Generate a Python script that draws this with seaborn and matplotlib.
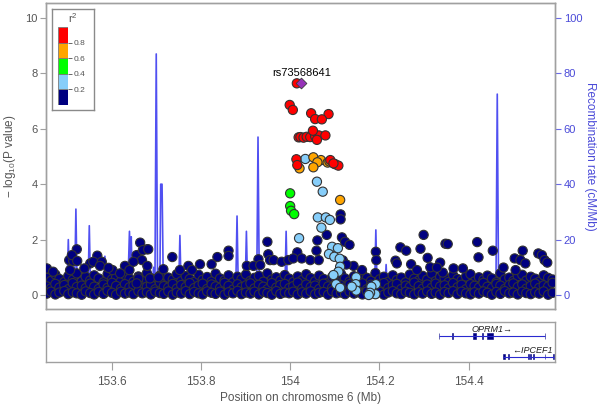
import matplotlib
matplotlib.use("Agg")
import matplotlib.pyplot as plt
import numpy as np
import pandas as pd
import seaborn as sns

# --- data --------------------------------------------------------------
index_snp = "rs73568641"
index_pos = 154.025
index_logp = 7.64

red_pos = [154.015, 153.999, 154.006, 154.047, 154.086, 154.056, 154.071,
           154.019, 154.023, 154.030, 154.037, 154.045, 154.056, 154.064, 154.079,
           154.051, 154.060, 154.014, 154.016, 154.090, 154.101, 154.108, 154.097]
red_logp = [7.64, 6.86, 6.68, 6.56, 6.53, 6.35, 6.34,
            5.69, 5.70, 5.68, 5.71, 5.70, 5.73, 5.76, 5.76,
            5.93, 5.60, 4.90, 4.69, 4.87, 4.72, 4.67, 4.75]

orange_pos = [154.052, 154.069, 154.061, 154.084, 154.052, 154.021, 154.112, 154.088]
orange_logp = [4.97, 4.87, 4.79, 4.78, 4.61, 4.57, 3.43, 4.82]

green_pos = [154.000, 154.000, 154.002, 154.009]
green_logp = [3.67, 3.21, 3.04, 2.92]

lblue_pos = [154.034, 154.060, 154.073, 154.062, 154.080, 154.089, 154.070, 154.020,
             154.094, 154.107, 154.087, 154.099, 154.111, 154.112, 154.108, 154.097,
             154.103, 154.112, 154.148, 154.147, 154.148, 154.138, 154.192, 154.191,
             154.182, 154.179, 154.176]
lblue_logp = [4.91, 4.09, 3.73, 2.80, 2.80, 2.71, 2.43, 2.05,
              1.74, 1.69, 1.48, 1.38, 1.31, 1.02, 0.84, 0.72,
              0.39, 0.26, 0.64, 0.39, 0.16, 0.30, 0.39, 0.03,
              0.30, 0.08, 0.00]

# navy points standing above the dense band
navy_pos = [154.113, 154.113, 154.082, 154.061, 154.059, 153.949, 154.016, 154.116, 154.123, 154.133,
            153.664, 153.522, 153.679, 153.656, 153.668, 153.680, 153.568, 153.736, 153.862, 153.862,
            153.837, 153.824, 153.798, 154.299, 154.247, 154.260, 154.292, 154.308, 154.348, 154.353,
            154.419, 154.422, 154.454, 154.521, 154.556, 154.564, 154.570, 154.576, 154.192, 154.193,
            153.929, 153.951, 153.955, 153.505, 153.514, 153.552, 153.559, 153.578, 153.630, 154.336,
            154.342, 154.366, 154.387, 154.503, 154.516, 154.527, 154.505, 154.478, 154.236, 154.239,
            154.271, 154.284, 154.314, 154.329, 154.142, 154.161, 153.903, 153.918, 153.933, 153.963,
            153.981, 153.996, 154.007, 154.026, 154.045, 154.064, 153.753, 153.772, 153.780, 153.455,
            153.469, 153.539, 153.602, 153.619, 153.640, 153.660, 153.686, 153.705, 153.716, 153.656,
            153.670, 153.682, 153.649, 153.511, 153.523, 153.507, 153.574, 153.593, 154.118, 154.126]
navy_logp = [2.91, 2.73, 2.17, 1.97, 1.60, 1.92, 1.54, 2.08, 1.92, 1.81,
             1.89, 1.65, 1.65, 1.44, 1.26, 1.05, 1.42, 1.37, 1.60, 1.41,
             1.37, 1.11, 1.11, 2.17, 1.72, 1.60, 1.67, 1.34, 1.85, 1.84,
             1.91, 1.36, 1.60, 1.60, 1.50, 1.44, 1.26, 1.17, 1.56, 1.26,
             1.29, 1.47, 1.26, 1.26, 1.23, 1.14, 1.20, 1.20, 1.05, 1.17,
             0.81, 0.96, 0.96, 1.32, 1.26, 1.14, 0.90, 0.99, 1.24, 1.14,
             1.11, 0.90, 1.00, 0.99, 1.05, 0.90, 1.05, 1.05, 1.08, 1.26,
             1.20, 1.26, 1.32, 1.32, 1.26, 1.26, 0.90, 1.05, 0.90, 0.96,
             0.84, 0.96, 0.90, 0.78, 0.90, 0.60, 0.60, 0.64, 0.93, 0.42,
             1.62, 1.65, 1.20, 1.44, 1.23, 0.90, 1.05, 0.98, 1.25, 1.10]

# dense band of weak SNPs along the bottom (three layers)
band_pos = [153.455, 153.464, 153.474, 153.483, 153.494, 153.503, 153.513, 153.522, 153.533, 153.542,
            153.552, 153.561, 153.571, 153.582, 153.591, 153.601, 153.610, 153.621, 153.630, 153.640,
            153.649, 153.660, 153.669, 153.679, 153.688, 153.698, 153.708, 153.717, 153.727, 153.737,
            153.746, 153.756, 153.766, 153.775, 153.785, 153.795, 153.804, 153.814, 153.824, 153.833,
            153.843, 153.853, 153.862, 153.872, 153.882, 153.891, 153.901, 153.911, 153.920, 153.930,
            153.940, 153.949, 153.959, 153.969, 153.978, 153.988, 153.998, 154.007, 154.017, 154.027,
            154.036, 154.046, 154.056, 154.065, 154.075, 154.085, 154.094, 154.104, 154.114, 154.123,
            154.133, 154.143, 154.152, 154.162, 154.172, 154.181, 154.191, 154.201, 154.210, 154.220,
            154.230, 154.239, 154.249, 154.259, 154.268, 154.278, 154.288, 154.297, 154.307, 154.317,
            154.326, 154.336, 154.346, 154.355, 154.365, 154.375, 154.384, 154.394, 154.404, 154.413,
            154.423, 154.433, 154.442, 154.452, 154.462, 154.471, 154.481, 154.491, 154.500, 154.510,
            154.520, 154.529, 154.539, 154.549, 154.558, 154.568, 154.578, 154.588]
band_low = [0.05, 0.12, 0.02, 0.09, 0.14, 0.03, 0.10, 0.06, 0.01, 0.13,
            0.07, 0.02, 0.11, 0.04, 0.15, 0.08, 0.01, 0.12, 0.05, 0.09,
            0.03, 0.14, 0.06, 0.10, 0.02, 0.12, 0.07, 0.04, 0.13, 0.01,
            0.09, 0.05, 0.14, 0.03, 0.11, 0.06, 0.02, 0.13, 0.08, 0.04,
            0.12, 0.01, 0.10, 0.06, 0.15, 0.03, 0.09, 0.05, 0.12, 0.02,
            0.11, 0.07, 0.01, 0.14, 0.04, 0.09, 0.06, 0.12, 0.02, 0.10,
            0.05, 0.13, 0.03, 0.08, 0.11, 0.01, 0.14, 0.06, 0.09, 0.03,
            0.12, 0.05, 0.10, 0.02, 0.13, 0.07, 0.04, 0.11, 0.01, 0.09,
            0.14, 0.06, 0.03, 0.12, 0.08, 0.02, 0.10, 0.05, 0.13, 0.04,
            0.09, 0.01, 0.11, 0.07, 0.14, 0.03, 0.12, 0.06, 0.02, 0.10,
            0.05, 0.13, 0.08, 0.01, 0.11, 0.04, 0.14, 0.06, 0.09, 0.02,
            0.12, 0.07, 0.03, 0.10, 0.05, 0.13, 0.01, 0.08]
band_mid = [0.31, 0.24, 0.40, 0.27, 0.36, 0.21, 0.43, 0.29, 0.34, 0.25,
            0.41, 0.30, 0.22, 0.38, 0.26, 0.44, 0.33, 0.23, 0.39, 0.28,
            0.35, 0.42, 0.24, 0.30, 0.37, 0.21, 0.45, 0.32, 0.27, 0.40,
            0.23, 0.36, 0.29, 0.43, 0.25, 0.34, 0.41, 0.22, 0.38, 0.31,
            0.26, 0.44, 0.33, 0.20, 0.39, 0.28, 0.35, 0.42, 0.24, 0.37,
            0.30, 0.21, 0.43, 0.27, 0.36, 0.40, 0.25, 0.32, 0.45, 0.23,
            0.38, 0.29, 0.34, 0.22, 0.41, 0.31, 0.26, 0.44, 0.35, 0.28,
            0.39, 0.24, 0.33, 0.42, 0.21, 0.37, 0.30, 0.27, 0.43, 0.25,
            0.36, 0.40, 0.22, 0.34, 0.29, 0.45, 0.32, 0.23, 0.38, 0.26,
            0.41, 0.31, 0.35, 0.24, 0.43, 0.28, 0.37, 0.21, 0.39, 0.33,
            0.27, 0.44, 0.30, 0.25, 0.40, 0.34, 0.22, 0.36, 0.42, 0.29,
            0.38, 0.23, 0.33, 0.41, 0.26, 0.35, 0.31, 0.44]
band_top = [0.62, 0.51, 0.74, 0.58, 0.47, 0.69, 0.55, 0.78, 0.49, 0.66,
            0.53, 0.71, 0.60, 0.46, 0.76, 0.57, 0.64, 0.50, 0.72, 0.59,
            0.48, 0.67, 0.54, 0.79, 0.61, 0.52, 0.70, 0.45, 0.63, 0.56,
            0.75, 0.50, 0.68, 0.58, 0.47, 0.73, 0.55, 0.65, 0.49, 0.77,
            0.60, 0.53, 0.71, 0.46, 0.66, 0.57, 0.74, 0.51, 0.62, 0.69,
            0.48, 0.78, 0.56, 0.64, 0.52, 0.72, 0.59, 0.47, 0.67, 0.54,
            0.75, 0.61, 0.50, 0.70, 0.58, 0.45, 0.65, 0.53, 0.76, 0.60,
            0.49, 0.68, 0.55, 0.73, 0.62, 0.51, 0.79, 0.57, 0.66, 0.48,
            0.71, 0.54, 0.63, 0.46, 0.74, 0.59, 0.52, 0.69, 0.56, 0.77,
            0.50, 0.65, 0.61, 0.47, 0.72, 0.58, 0.53, 0.67, 0.75, 0.49,
            0.64, 0.55, 0.70, 0.60, 0.46, 0.78, 0.57, 0.63, 0.51, 0.68,
            0.73, 0.52, 0.66, 0.59, 0.48, 0.71, 0.62, 0.56]

recomb_pos = [153.453, 153.500, 153.503, 153.506, 153.517, 153.520, 153.523, 153.547, 153.550, 153.553,
              153.582, 153.585, 153.588, 153.636, 153.640, 153.642, 153.644, 153.647, 153.690, 153.694,
              153.697, 153.700, 153.703, 153.708, 153.710, 153.713, 153.716, 153.750, 153.753, 153.756,
              153.878, 153.881, 153.884, 153.899, 153.902, 153.905, 153.925, 153.928, 153.931, 153.988,
              153.991, 153.994, 154.189, 154.192, 154.195, 154.212, 154.215, 154.218, 154.461, 154.464,
              154.467, 154.594]
recomb_rate = [0.5, 0.8, 20.0, 0.6, 1.0, 31.0, 1.2, 0.8, 25.0, 0.7,
               0.9, 14.0, 0.6, 1.0, 23.0, 12.0, 21.0, 0.8, 1.0, 10.0,
               2.0, 87.0, 3.0, 2.0, 40.0, 40.0, 1.5, 0.9, 21.5, 0.8,
               1.0, 28.5, 0.7, 0.9, 23.0, 0.8, 1.0, 57.0, 1.2, 0.9,
               23.0, 1.0, 1.2, 23.5, 1.0, 1.0, 11.0, 0.8, 0.9, 72.5,
               1.0, 0.6]

r2_bins = ["0.0-0.2", "0.2-0.4", "0.4-0.6", "0.6-0.8", "0.8-1.0"]
r2_colors = ["#000080", "#87CEFA", "#00FF00", "#FFA500", "#FF0000"]

genes = ["OPRM1", "IPCEF1"]
gene_start = [154.333, 154.476]
gene_end = [154.570, 154.594]
gene_row = [2.6, 0.5]
gene_label = ["OPRM1\u2192", "\u2190IPCEF1"]
gene_label_x = [154.453, 154.543]
gene_exons = [
    [(154.333, 0.0012), (154.363, 0.0012), (154.409, 0.007), (154.430, 0.0015),
     (154.441, 0.014), (154.570, 0.0012)],
    [(154.476, 0.005), (154.489, 0.0012), (154.533, 0.0012), (154.538, 0.0015),
     (154.545, 0.0015), (154.570, 0.0012), (154.590, 0.0012)],
]

xlim = (153.453, 154.594)
grey = "#a0a0a0"
text_grey = "#555555"
recomb_blue = "#3d3df0"

# --- style ---------------------------------------------------------------
sns.set_style("white")
plt.rcParams["font.family"] = ["Liberation Sans", "DejaVu Sans"]
plt.rcParams["mathtext.fontset"] = "custom"
plt.rcParams["mathtext.rm"] = "Liberation Sans"
plt.rcParams["mathtext.it"] = "Liberation Sans:italic"

fig = plt.figure(figsize=(6.02, 4.09), dpi=100)
ax = fig.add_axes([0.0764, 0.2445, 0.846, 0.7482])
ax2 = ax.twinx()
ax.set_zorder(ax2.get_zorder() + 1)
ax.patch.set_visible(False)

# recombination rate behind the points
sns.lineplot(x=recomb_pos, y=recomb_rate, ax=ax2, color=recomb_blue, lw=1.2,
             alpha=0.9, estimator=None, sort=False)

def frame(pos, logp, r2):
    return pd.DataFrame({"pos": pos, "logp": logp, "r2": r2})

snps = pd.concat([
    frame(band_pos, band_top, r2_bins[0]),
    frame(band_pos, band_mid, r2_bins[0]),
    frame(band_pos, band_low, r2_bins[0]),
    frame(navy_pos, navy_logp, r2_bins[0]),
    frame(lblue_pos, lblue_logp, r2_bins[1]),
    frame(green_pos, green_logp, r2_bins[2]),
    frame(orange_pos, orange_logp, r2_bins[3]),
    frame(red_pos, red_logp, r2_bins[4]),
], ignore_index=True)

sns.scatterplot(data=snps, x="pos", y="logp", hue="r2",
                palette=dict(zip(r2_bins, r2_colors)), s=44,
                edgecolor="#333333", linewidth=0.8, legend=False, ax=ax, zorder=3)
sns.scatterplot(x=[index_pos], y=[index_logp], marker="D", color="#9632B8", s=30,
                edgecolor="#3c3c3c", linewidth=0.6, legend=False, ax=ax, zorder=4)
ax.text(index_pos, index_logp + 0.37, index_snp, ha="center", va="center",
        fontsize=8, color="black", zorder=5)

ax.set_xlim(*xlim)
ax.set_ylim(-0.505, 10.54)
ax2.set_ylim(-5.05, 105.4)
ax.set_xticks([])
ax.set_xlabel("")
ax.set_yticks([0, 2, 4, 6, 8, 10])
ax2.set_yticks([0, 20, 40, 60, 80, 100])
ax.tick_params(axis="y", length=4, width=0.8, color=grey, labelcolor=text_grey,
               labelsize=8, left=True, pad=2)
ax2.tick_params(axis="y", length=4, width=0.8, color="#6a6ae8", labelcolor="#4a4ad8",
                labelsize=8, right=True, pad=2)
for a in (ax, ax2):
    for sp in a.spines.values():
        sp.set_color(grey)
        sp.set_linewidth(1.0)

ax.set_ylabel(r"$-$ log$_{10}$(P value)", fontsize=8.5, color=text_grey)
ax.yaxis.set_label_coords(-0.054, 0.5)
ax2.set_ylabel("Recombination rate (cM/Mb)", fontsize=8.5, color="#4a4ad8",
               rotation=270, va="center")
ax2.yaxis.set_label_coords(1.068, 0.5)

# r^2 legend box
leg = ax.inset_axes([0.0118, 0.650, 0.0824, 0.330])
leg.set_xticks([])
leg.set_yticks([])
leg.set_facecolor("white")
for sp in leg.spines.values():
    sp.set_color("#8a8a8a")
    sp.set_linewidth(1.0)
leg.text(0.5, 0.915, "r$^2$", ha="center", va="center", fontsize=8, color=text_grey,
         transform=leg.transAxes)
bar = leg.inset_axes([0.143, 0.05, 0.238, 0.772])
bar.bar(x=[0] * 5, height=[0.2] * 5, bottom=[0.0, 0.2, 0.4, 0.6, 0.8], width=1.0,
        color=r2_colors, edgecolor="#7a7a7a", linewidth=0.6)
bar.set_xlim(-0.5, 0.5)
bar.set_ylim(0, 1)
bar.set_xticks([])
bar.yaxis.tick_right()
bar.set_yticks([0.2, 0.4, 0.6, 0.8])
bar.set_yticklabels(["0.2", "0.4", "0.6", "0.8"])
bar.tick_params(axis="y", length=3, width=0.7, color="#666666", labelcolor=text_grey,
                labelsize=6, pad=1)
for sp in bar.spines.values():
    sp.set_visible(False)

# gene panel
axg = fig.add_axes([0.0764, 0.1157, 0.846, 0.0963])
axg.set_xlim(*xlim)
axg.set_ylim(0, 4)
for g in range(len(genes)):
    axg.hlines(gene_row[g], gene_start[g], gene_end[g], color="#2a2ad0", lw=0.8)
    axg.broken_barh(gene_exons[g], (gene_row[g] - 0.27, 0.54), facecolor="#000080",
                    edgecolor="#000080", linewidth=0.4)
    axg.text(gene_label_x[g], gene_row[g] + 0.62, gene_label[g], ha="center",
             va="center", fontsize=6.5, style="italic", color="#222222")
axg.set_yticks([])
axg.set_xticks([153.6, 153.8, 154.0, 154.2, 154.4])
axg.set_xticklabels(["153.6", "153.8", "154", "154.2", "154.4"])
axg.tick_params(axis="x", bottom=True, length=6, width=0.8, color=grey,
                labelcolor=text_grey, labelsize=8.5, pad=4)
for sp in axg.spines.values():
    sp.set_color(grey)
    sp.set_linewidth(1.0)
axg.set_xlabel("Position on chromosme 6 (Mb)", fontsize=8.5, color=text_grey, labelpad=3)

fig.savefig("out.png", dpi=100)
